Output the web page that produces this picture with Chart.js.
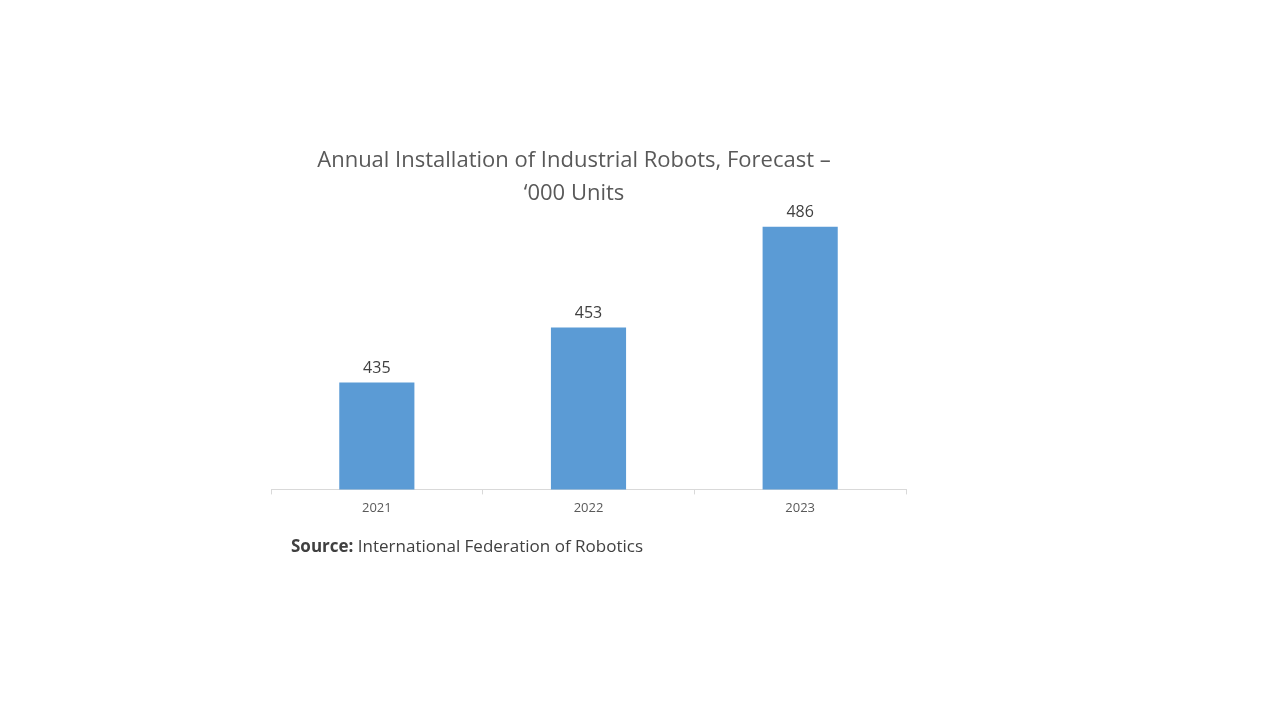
<!DOCTYPE html>
<html><head><meta charset="utf-8">
<script src="https://cdn.jsdelivr.net/npm/chart.js@4"></script>
<style>
body{margin:0;background:#fff;font-family:"Open Sans",sans-serif}
#wrap{position:relative;width:1280px;height:720px}
canvas{position:absolute;left:0;top:0}
.title{position:absolute;left:270px;width:608px;top:142px;text-align:center;font-size:22px;color:#595959;line-height:33px}
.src{position:absolute;left:291px;top:534px;font-size:17px;color:#404040}
</style></head><body>
<div id="wrap">
<canvas id="c" width="1280" height="720"></canvas>
<div class="title">Annual Installation of Industrial Robots, Forecast –<br>‘000 Units</div>
<div class="src"><b>Source:</b> International Federation of Robotics</div>
</div>
<script>
const years = ['2021', '2022', '2023'];
const units = [435, 453, 486];

const barLabels = {
    id: 'barLabels',
    afterDatasetsDraw(chart) {
        const ctx = chart.ctx;
        ctx.save();
        ctx.font = '16px "Open Sans"';
        ctx.fillStyle = '#404040';
        ctx.textAlign = 'center';
        ctx.textBaseline = 'bottom';
        chart.getDatasetMeta(0).data.forEach(function(bar, i) {
            ctx.fillText(units[i], bar.x, bar.y - 6);
        });
        ctx.restore();
    }
};

new Chart(document.getElementById('c').getContext('2d'), {
    type: 'bar',
    data: {
        labels: years,
        datasets: [{
            data: units,
            backgroundColor: '#5b9bd5',
            categoryPercentage: 1,
            barPercentage: 0.355
        }]
    },
    options: {
        responsive: false,
        animation: false,
        layout: { padding: { left: 271, right: 374, top: 184, bottom: 198 } },
        plugins: { legend: { display: false }, tooltip: { enabled: false } },
        scales: {
            y: { display: false, min: 400, max: 500 },
            x: {
                border: { color: '#d9d9d9' },
                grid: { drawOnChartArea: false, tickLength: 5, color: '#d9d9d9' },
                ticks: { color: '#595959', font: { size: 13, family: 'Open Sans' }, padding: 6 }
            }
        }
    },
    plugins: [barLabels]
});
</script>
</body></html>
